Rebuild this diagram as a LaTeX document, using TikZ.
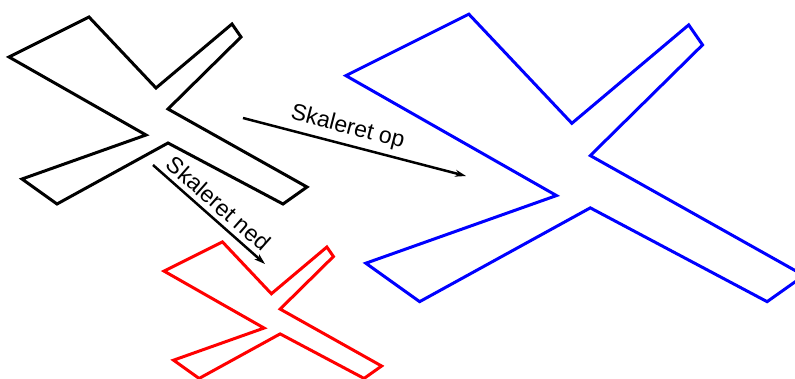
\documentclass[tikz,border=0pt]{standalone}
\usepackage{fontspec}
\setmainfont{Liberation Sans}
\usetikzlibrary{arrows.meta}
\tikzset{
	>={Stealth[length=11pt,width=7pt]},
	kontur/.style={line width=3pt, line join=miter},
	pil/.style={draw, line width=2.5pt, ->},
	tekst/.style={above=3pt, sloped, inner sep=2pt,
		font={\fontsize{23pt}{27}\selectfont}},
	kryds/.pic={
		\draw[pic actions] (9,57) -- (89,17) -- (156,88) -- (232,24)
			-- (241,37) -- (168,109) -- (307,187) -- (283,204)
			-- (168,143) -- (57,204) -- (22,179) -- (146,135) -- cycle;
	},
}

\begin{document}
\begin{tikzpicture}[x=1pt,y=-1pt]
	\useasboundingbox (0,0) rectangle (795,378);
	\clip (0,0) rectangle (795,378);
	% original, op og ned
	\pic[kontur, draw=black] at (0,0) {kryds};
	\pic[kontur, draw=blue, scale=1.5375] at (332,-12) {kryds};
	\pic[kontur, draw=red, scale=0.73] at (157.5,229.5) {kryds};
	\coordinate (opstart) at (243,118);
	\coordinate (opslut) at (466,176);
	\coordinate (nedstart) at (153,165);
	\coordinate (nedslut) at (265,264);
	\draw[pil] (opstart) -- node[tekst, pos=0.45] {Skaleret op} (opslut);
	\draw[pil] (nedstart) -- node[tekst, pos=0.5] {Skaleret ned} (nedslut);
\end{tikzpicture}
\end{document}
